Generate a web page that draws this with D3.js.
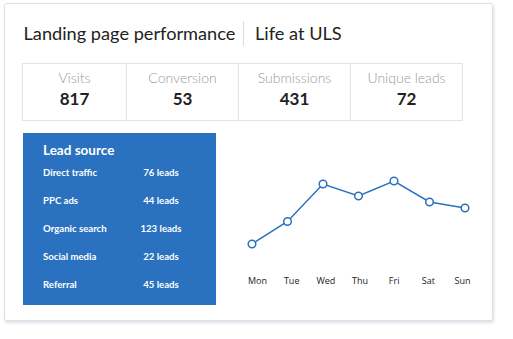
<!DOCTYPE html>
<html>
<head>
<meta charset="utf-8">
<script src="https://cdn.jsdelivr.net/npm/d3@7"></script>
<style>
  html, body { margin: 0; padding: 0; background: #fff; }
  svg { display: block; }
</style>
</head>
<body>
<svg id="chart" width="513" height="339"></svg>
<script>
// Headline stats
const statLabels = ["Visits", "Conversion", "Submissions", "Unique leads"];
const statValues = [817, 53, 431, 72];

// Lead sources
const sourceNames = ["Direct traffic", "PPC ads", "Organic search", "Social media", "Referral"];
const sourceLeads = [76, 44, 123, 22, 45];

// Weekly trend
const days = ["Mon", "Tue", "Wed", "Thu", "Fri", "Sat", "Sun"];
const dayValues = [24, 39, 64, 56, 66, 52, 48];

const blue = "#2a71bf";
const font = "Lato, 'Open Sans', sans-serif";
const svg = d3.select("#chart");

// Card with soft shadow
const defs = svg.append("defs");
const f = defs.append("filter").attr("id", "shadow").attr("x", "-5%").attr("y", "-5%").attr("width", "110%").attr("height", "115%");
f.append("feDropShadow").attr("dx", 1).attr("dy", 2).attr("stdDeviation", 1.5).attr("flood-color", "#9aa6b4").attr("flood-opacity", 0.35);

svg.append("rect")
  .attr("x", 4.5).attr("y", 3.5).attr("width", 488).attr("height", 317)
  .attr("rx", 2)
  .attr("fill", "#fff").attr("stroke", "#dbe1e8").attr("filter", "url(#shadow)");

// Title
svg.append("text").attr("x", 23.5).attr("y", 40)
  .attr("font-family", font).attr("font-size", 18.2).attr("fill", "#222")
  .text("Landing page performance");
svg.append("line").attr("x1", 243.5).attr("x2", 243.5).attr("y1", 21).attr("y2", 46)
  .attr("stroke", "#dcdcdc");
svg.append("text").attr("x", 255).attr("y", 40)
  .attr("font-family", font).attr("font-size", 18.2).attr("fill", "#222")
  .text("Life at ULS");

// Stats strip
const statEdges = [22.5, 126.5, 238.5, 350.5, 462.5];
const statX = d3.scaleOrdinal().domain(statLabels).range(statLabels.map((d, i) => (statEdges[i] + statEdges[i + 1]) / 2));
svg.append("rect").attr("x", 22.5).attr("y", 63.5).attr("width", 440).attr("height", 57)
  .attr("fill", "none").attr("stroke", "#e3e3e3");
svg.selectAll("line.div").data(statEdges.slice(1, -1)).join("line")
  .attr("class", "div")
  .attr("x1", d => d).attr("x2", d => d).attr("y1", 63.5).attr("y2", 120.5)
  .attr("stroke", "#e3e3e3");
svg.selectAll("text.slabel").data(statLabels).join("text")
  .attr("class", "slabel")
  .attr("x", d => statX(d)).attr("y", 83)
  .attr("text-anchor", "middle")
  .attr("font-family", font).attr("font-size", 14).attr("font-weight", 300).attr("fill", "#9a9a9a")
  .text(d => d);
svg.selectAll("text.svalue").data(statValues).join("text")
  .attr("class", "svalue")
  .attr("x", (d, i) => statX(statLabels[i])).attr("y", 105)
  .attr("text-anchor", "middle")
  .attr("font-family", font).attr("font-size", 17).attr("font-weight", 700).attr("fill", "#222")
  .text(d => d);

// Lead source panel
svg.append("rect").attr("x", 23).attr("y", 133).attr("width", 193).attr("height", 172).attr("fill", blue);
svg.append("text").attr("x", 43).attr("y", 155)
  .attr("font-family", font).attr("font-size", 13.5).attr("font-weight", 700).attr("fill", "#fff")
  .text("Lead source");
const rowY = d3.scalePoint().domain(sourceNames).range([176, 288]);
svg.selectAll("text.sname").data(sourceNames).join("text")
  .attr("class", "sname")
  .attr("x", 43).attr("y", d => rowY(d))
  .attr("font-family", font).attr("font-size", 9.6).attr("font-weight", 700).attr("fill", "#fff")
  .text(d => d);
svg.selectAll("text.slead").data(sourceLeads).join("text")
  .attr("class", "slead")
  .attr("x", 161).attr("y", (d, i) => rowY(sourceNames[i]))
  .attr("text-anchor", "middle")
  .attr("font-family", font).attr("font-size", 9.6).attr("font-weight", 700).attr("fill", "#fff")
  .text(d => d + " leads");

// Weekly line chart
const x = d3.scalePoint().domain(days).range([252, 465]);
const xLabel = d3.scalePoint().domain(days).range([257, 462]);
const y = d3.scaleLinear().domain([0, 100]).range([280, 130]);

const xAxis = svg.append("g").attr("transform", "translate(0,281)")
  .call(d3.axisBottom(xLabel).tickSize(0).tickPadding(0));
xAxis.select(".domain").remove();
xAxis.selectAll("text")
  .attr("font-family", "'Open Sans', sans-serif").attr("font-size", 9).attr("fill", "#222").attr("dy", "0.3em");

svg.append("path").datum(dayValues)
  .attr("fill", "none").attr("stroke", blue).attr("stroke-width", 1.5)
  .attr("d", d3.line().x((d, i) => x(days[i])).y(d => y(d)));
svg.selectAll("circle.pt").data(dayValues).join("circle")
  .attr("class", "pt")
  .attr("cx", (d, i) => x(days[i])).attr("cy", d => y(d)).attr("r", 3.8)
  .attr("fill", "#fff").attr("stroke", blue).attr("stroke-width", 1.5);
</script>
</body>
</html>
